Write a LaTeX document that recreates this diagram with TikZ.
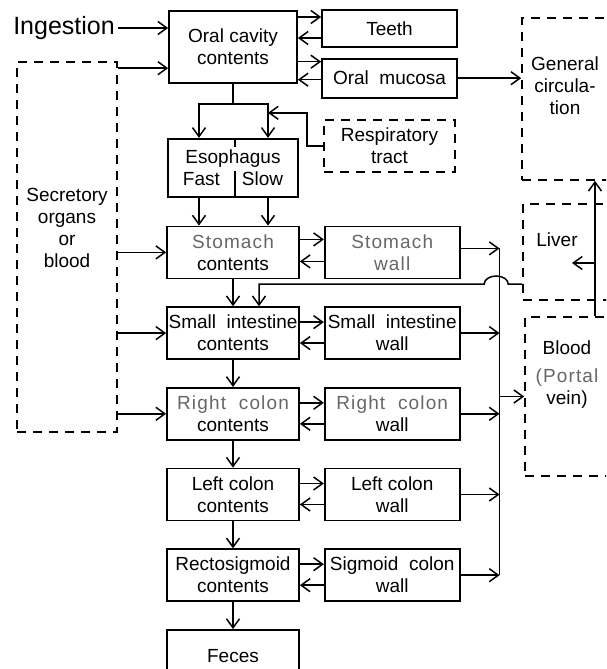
\documentclass[tikz,border=0pt]{standalone}
\usepackage{fontspec}
\setmainfont{Liberation Sans}
\usetikzlibrary{arrows.meta, positioning}
\newcommand{\faint}[1]{{\color{black!60}\addfontfeature{LetterSpace=6}#1}}

\begin{document}
\begin{tikzpicture}[x=1pt, y=-1pt, node distance=27pt and 24pt,
    font=\fontsize{19}{22}\selectfont,
    box/.style={rectangle, draw, line width=1.7pt, align=center, inner sep=1pt, minimum width=132pt, minimum height=52pt},
    wall/.style={box, minimum width=135pt},
    dbox/.style={rectangle, draw, line width=1.6pt, dash pattern=on 9pt off 7pt},
    arrow/.style={line width=1.5pt, -{Straight Barb[length=9pt, width=13pt]}},
    conn/.style={line width=1.5pt}]
    \useasboundingbox (0,0) rectangle (606,669);
    \clip (0,0) rectangle (606,669);

    % mouth
    \node [box, minimum width=128pt, minimum height=72pt] (oral) at (233,47) {Oral cavity\\contents};
    \node [wall, minimum height=37pt] (teeth) at (389.5,28.5) {Teeth};
    \node [wall, minimum height=39pt, below=10pt of teeth] (mucosa) {Oral\ \ mucosa};
    \node [font=\fontsize{25}{28}\selectfont] (ingest) at (64,28) {Ingestion};
    \node [dbox, minimum width=131pt, minimum height=52pt, align=center] (resp) at (389.5,146) {Respiratory\\tract};

    % gastrointestinal tract
    \node [box, minimum width=130pt, minimum height=58pt, below=54pt of oral] (esoph) {Esophagus\\Fast\hspace{22pt}Slow};
    \node [box, below=28pt of esoph] (stomach) {\faint{Stomach}\\contents};
    \node [box, below=of stomach] (si) {Small\ \ intestine\\contents};
    \node [box, below=of si] (rc) {\faint{Right\ \ colon}\\contents};
    \node [box, below=of rc] (lc) {Left colon\\contents};
    \node [box, below=of lc] (rs) {Rectosigmoid\\contents};
    \node [box, below=of rs] (feces) {Feces};

    \node [wall, right=of stomach] (stwall) {\faint{Stomach}\\\faint{wall}};
    \node [wall, right=of si] (siwall) {Small\ \ intestine\\wall};
    \node [wall, right=of rc] (rcwall) {\faint{Right\ \ colon}\\wall};
    \node [wall, right=of lc] (lcwall) {Left colon\\wall};
    \node [wall, right=of rs] (rswall) {Sigmoid\ \ colon\\wall};

    % dashed compartments
    \node [dbox, minimum width=100pt, minimum height=370pt] (secr) at (67,247) {};
    \node [align=center] (secrtxt) at (67,228) {Secretory\\organs\\or\\blood};
    \node [dbox, minimum width=160pt, minimum height=162pt] (gencirc) at (602,99) {};
    \node [align=center] (gctxt) at (565,86) {General\\circula-\\tion};
    \node [dbox, minimum width=160pt, minimum height=96pt] (liver) at (603,252) {};
    \node (livertxt) at (557,240) {Liver};
    \node [dbox, minimum width=160pt, minimum height=159pt] (blood) at (605,396.5) {};
    \node [align=center] (bloodtxt) at (567,375) {Blood\\[6pt]\faint{(Portal}\\vein)};

    % into the mouth
    \draw [arrow] (ingest.east) -- (ingest.east -| oral.west);
    \coordinate (s0) at ([yshift=-7pt]secr.north east);
    \draw [arrow] (s0) -- (s0 -| oral.west);

    \coordinate (ta) at ([yshift=11.5pt]teeth.west);
    \coordinate (tb) at ([yshift=-9.5pt]teeth.west);
    \coordinate (ma) at ([yshift=16.5pt]mucosa.west);
    \coordinate (mb) at ([yshift=-1.5pt]mucosa.west);
    \draw [arrow] (ta -| oral.east) -- (ta);
    \draw [arrow] (tb) -- (tb -| oral.east);
    \draw [arrow] (ma -| oral.east) -- (ma);
    \draw [arrow] (mb) -- (mb -| oral.east);
    \draw [arrow] (mucosa.east) -- (mucosa.east -| gencirc.west);

    % mouth to esophagus
    \coordinate (split) at ([yshift=-20pt]oral.south);
    \draw [conn] (oral.south) -- (split);
    \draw [arrow] (split) -| ([xshift=-34pt]esoph.north);
    \draw [arrow] (split) -| ([xshift=35pt]esoph.north);
    \draw [arrow] (resp.west) -- ++(-16pt,0) |- ([xshift=35pt, yshift=25pt]esoph.north);
    \draw [conn] ([xshift=2pt]esoph.north) -- ([xshift=2pt, yshift=-9pt]esoph.north);
    \draw [conn] ([xshift=2pt, yshift=27pt]esoph.south) -- ([xshift=2pt]esoph.south);
    \draw [arrow] ([xshift=-34pt]esoph.south) -- ([xshift=-34pt]stomach.north);
    \draw [arrow] ([xshift=35pt]esoph.south) -- ([xshift=35pt]stomach.north);

    % down the tract
    \draw [arrow] (stomach) -- (si);
    \draw [arrow] (si) -- (rc);
    \draw [arrow] (rc) -- (lc);
    \draw [arrow] (lc) -- (rs);
    \draw [arrow] (rs) -- (feces);

    % contents <-> walls
    \draw [arrow] ([yshift=13pt]stomach.east) -- ([yshift=13pt]stwall.west);
    \draw [arrow] ([yshift=-9pt]stwall.west) -- ([yshift=-9pt]stomach.east);
    \draw [arrow] ([yshift=11pt]si.east) -- ([yshift=11pt]siwall.west);
    \draw [arrow] ([yshift=-10pt]siwall.west) -- ([yshift=-10pt]si.east);
    \draw [arrow] ([yshift=11pt]rc.east) -- ([yshift=11pt]rcwall.west);
    \draw [arrow] ([yshift=-10pt]rcwall.west) -- ([yshift=-10pt]rc.east);
    \draw [arrow] ([yshift=11pt]lc.east) -- ([yshift=11pt]lcwall.west);
    \draw [arrow] ([yshift=-10pt]lcwall.west) -- ([yshift=-10pt]lc.east);
    \draw [arrow] ([yshift=11pt]rs.east) -- ([yshift=11pt]rswall.west);
    \draw [arrow] ([yshift=-10pt]rswall.west) -- ([yshift=-10pt]rs.east);

    % secretions into the tract
    \draw [arrow] (secr.east |- stomach.west) -- (stomach.west);
    \draw [arrow] (secr.east |- si.west) -- (si.west);
    \draw [arrow] (secr.east |- rc.west) -- (rc.west);

    % walls to portal blood
    \coordinate (ctop) at ([xshift=39pt, yshift=4pt]stwall.east);
    \draw [arrow] ([yshift=4pt]stwall.east) -- (ctop);
    \draw [conn] (ctop) -- (ctop |- rswall.east);
    \draw [arrow] (siwall.east) -- (siwall.east -| ctop);
    \draw [arrow] (rcwall.east) -- (rcwall.east -| ctop);
    \draw [arrow] (lcwall.east) -- (lcwall.east -| ctop);
    \draw [arrow] (rswall.east) -- (rswall.east -| ctop);
    \draw [arrow] (blood.west -| ctop) -- (blood.west);

    % portal blood, liver, general circulation
    \coordinate (vx) at ([xshift=-10pt]blood.north);
    \draw [arrow] (vx) -- (vx |- gencirc.south);
    \coordinate (lin) at ([xshift=-31pt, yshift=-11pt]liver.center);
    \draw [arrow] (lin -| vx) -- (lin);
    \draw [arrow] ([yshift=-32pt]liver.west) -- ++(-14pt,0) arc[start angle=0, end angle=180, x radius=12pt, y radius=8pt] -| ([xshift=26pt]si.north);
\end{tikzpicture}
\end{document}
